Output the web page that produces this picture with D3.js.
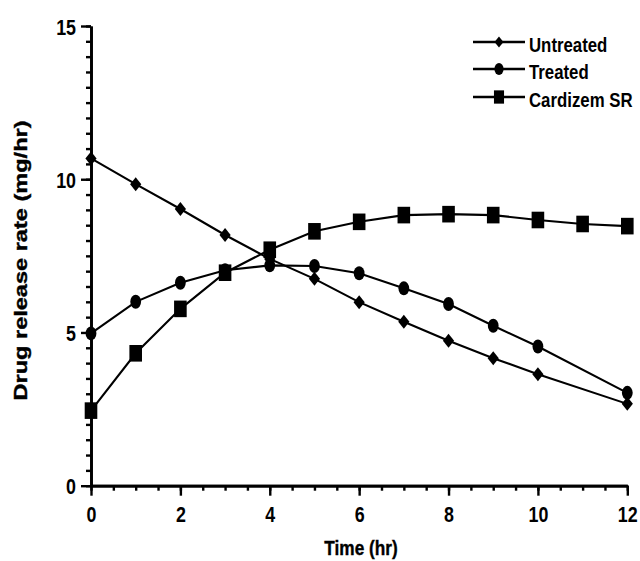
<!DOCTYPE html>
<html>
<head>
<meta charset="utf-8">
<script src="https://cdn.jsdelivr.net/npm/d3@7"></script>
<style>
  html, body { margin: 0; padding: 0; background: #fff; }
  svg { display: block; }
  text { font-family: "Liberation Sans", Arial, sans-serif; fill: #000; }
</style>
</head>
<body>
<svg id="chart" width="640" height="561"></svg>
<script>
// Drug release rate (mg/hr) over time (hr)
const hours = [0, 1, 2, 3, 4, 5, 6, 7, 8, 9, 10, 12];
const untreated = [10.68, 9.84, 9.03, 8.18, 7.40, 6.75, 5.99, 5.35, 4.73, 4.16, 3.64, 2.67];
const treated = [4.97, 6.00, 6.62, 7.03, 7.19, 7.17, 6.93, 6.44, 5.93, 5.22, 4.54, 3.03];
const cardizemHours = [0, 1, 2, 3, 4, 5, 6, 7, 8, 9, 10, 11, 12];
const cardizem = [2.45, 4.32, 5.77, 6.95, 7.70, 8.30, 8.61, 8.83, 8.86, 8.83, 8.67, 8.54, 8.47];

const seriesNames = ["Untreated", "Treated", "Cardizem SR"];
const xTickLabels = [0, 2, 4, 6, 8, 10, 12];
const yTickLabels = [0, 5, 10, 15];

const svg = d3.select("#chart");
svg.append("rect").attr("width", 640).attr("height", 561).attr("fill", "#fff");

const x = d3.scaleLinear().domain([0, 12]).range([91, 627.3]);
const y = d3.scaleLinear().domain([0, 15]).range([485.7, 26]);

// marker shapes (drawn slightly taller than wide)
const markers = {
  diamond: (g, s) => g.append("path")
      .attr("d", `M0,${-7 * s}L${5.6 * s},0L0,${7 * s}L${-5.6 * s},0Z`),
  circle: (g, s) => g.append("ellipse").attr("rx", 5.4 * s).attr("ry", 7 * s),
  square: (g, s) => g.append("rect")
      .attr("x", -6.3 * s).attr("y", -8.3 * s)
      .attr("width", 12.6 * s).attr("height", 16.6 * s)
};

const series = [
  { name: seriesNames[0], xs: hours, ys: untreated, shape: "diamond" },
  { name: seriesNames[1], xs: hours, ys: treated, shape: "circle" },
  { name: seriesNames[2], xs: cardizemHours, ys: cardizem, shape: "square" }
];

// ---- axes ----
function styleAxis(g) {
  g.selectAll("path.domain").attr("stroke", "#000").attr("stroke-width", 2.7);
  g.selectAll(".tick line").attr("stroke", "#000").attr("stroke-width", 2.4);
}

// minor ticks every 0.5
const minorY = d3.range(0, 15.001, 0.5);
const minorX = d3.range(0, 12.001, 0.5);

svg.append("g")
  .attr("transform", `translate(${x(0)},0)`)
  .call(d3.axisLeft(y).tickValues(minorY).tickSize(5).tickSizeOuter(0).tickFormat(""))
  .call(styleAxis);

svg.append("g")
  .attr("transform", `translate(0,${y(0)})`)
  .call(d3.axisBottom(x).tickValues(minorX).tickSize(5).tickSizeOuter(0).tickFormat(""))
  .call(styleAxis);

// major ticks with labels
const yMajor = svg.append("g")
  .attr("transform", `translate(${x(0)},0)`)
  .call(d3.axisLeft(y).tickValues(yTickLabels).tickSize(10).tickSizeOuter(0).tickFormat(d3.format("d")))
  .call(styleAxis);
yMajor.selectAll(".tick text")
  .attr("x", null).attr("dy", null)
  .attr("transform", "translate(-15,8) scale(0.85,1.08)")
  .attr("text-anchor", "end")
  .style("font-size", "21px").style("font-weight", "bold");

const xMajor = svg.append("g")
  .attr("transform", `translate(0,${y(0)})`)
  .call(d3.axisBottom(x).tickValues(xTickLabels).tickSize(10).tickSizeOuter(0).tickFormat(d3.format("d")))
  .call(styleAxis);
xMajor.selectAll(".tick text")
  .attr("y", null).attr("dy", null)
  .attr("transform", "translate(0,36) scale(0.85,1.05)")
  .attr("text-anchor", "middle")
  .style("font-size", "21px").style("font-weight", "bold");
svg.selectAll(".domain").raise();

// ---- axis titles ----
svg.append("text")
  .attr("transform", "translate(361,555) scale(0.82,1)")
  .attr("text-anchor", "middle")
  .style("font-size", "21px").style("font-weight", "bold")
  .style("stroke", "#000").style("stroke-width", 0.4)
  .text("Time (hr)");

svg.append("text")
  .attr("transform", "translate(26.5,260.5) rotate(-90) scale(1.24,1)")
  .attr("text-anchor", "middle")
  .style("font-size", "19px").style("font-weight", "bold")
  .style("stroke", "#000").style("stroke-width", 0.4)
  .text("Drug release rate (mg/hr)");

// ---- series ----
const line = d3.line().x(d => x(d[0])).y(d => y(d[1]));

series.forEach(s => {
  const pts = s.xs.map((t, i) => [t, s.ys[i]]);
  const g = svg.append("g");
  g.append("path")
    .attr("d", line(pts))
    .attr("fill", "none").attr("stroke", "#000").attr("stroke-width", 2.1);
  g.selectAll("g.pt").data(pts).join("g")
    .attr("class", "pt")
    .attr("transform", d => `translate(${x(d[0])},${y(d[1])})`)
    .each(function () { markers[s.shape](d3.select(this), 1).attr("fill", "#000"); });
});

// ---- legend ----
const legendRows = [42, 69, 97];
const legendScale = [0.8, 0.85, 0.8];
series.forEach((s, i) => {
  const g = svg.append("g").attr("transform", `translate(0,${legendRows[i]})`);
  g.append("line").attr("x1", 473).attr("x2", 525).attr("y1", 0).attr("y2", 0)
    .attr("stroke", "#000").attr("stroke-width", 2.4);
  const m = g.append("g").attr("transform", "translate(499,0)");
  markers[s.shape](m, legendScale[i]).attr("fill", "#000");
  g.append("text")
    .attr("transform", "translate(529,9.5) scale(0.8,1)")
    .style("font-size", "21px").style("font-weight", "bold")
    .text(s.name);
});
</script>
</body>
</html>
